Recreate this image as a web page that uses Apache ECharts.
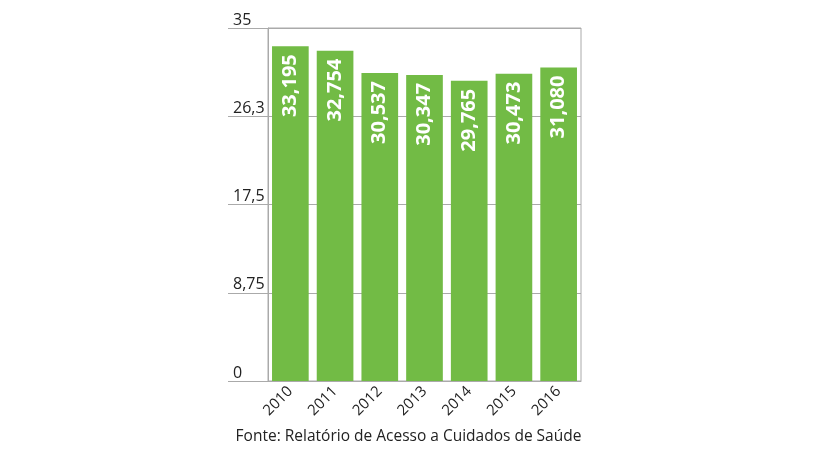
<!DOCTYPE html>
<html>
<head>
<meta charset="utf-8">
<script src="https://cdn.jsdelivr.net/npm/echarts@6/dist/echarts.min.js"></script>
<style>
  html, body { margin: 0; padding: 0; background: #fff; }
  #chart { width: 817px; height: 460px; }
</style>
</head>
<body>
<div id="chart"></div>
<script>
var years = ['2010', '2011', '2012', '2013', '2014', '2015', '2016'];
var values = [33.195, 32.754, 30.537, 30.347, 29.765, 30.473, 31.080];
var valueLabels = ['33,195', '32,754', '30,537', '30,347', '29,765', '30,473', '31,080'];
var yTickLabels = { 0: '0', 8.75: '8,75', 17.5: '17,5', 26.25: '26,3', 35: '35' };

var chart = echarts.init(document.getElementById('chart'));
var font = '"Open Sans", "Noto Sans", sans-serif';

var option = {
    animation: false,
    title: {
        text: 'Fonte: Relatório de Acesso a Cuidados de Saúde',
        left: 'center',
        bottom: 10,
        textStyle: { fontFamily: font, fontSize: 15.5, fontWeight: 'normal', color: '#222' }
    },
    grid: [
        // bars
        { left: 268, top: 28, width: 313, height: 353, show: true, borderColor: '#aaa', borderWidth: 1, backgroundColor: 'transparent' },
        // gridlines + labels reaching left of the axis
        { left: 228, top: 28, width: 353, height: 353 }
    ],
    xAxis: [
        {
            gridIndex: 0,
            type: 'category',
            data: years,
            axisLine: { lineStyle: { color: '#aaa' } },
            axisTick: { show: false },
            axisLabel: {
                rotate: 45,
                margin: 8,
                fontFamily: font,
                fontSize: 15,
                color: '#222'
            }
        },
        { gridIndex: 1, type: 'value', show: false }
    ],
    yAxis: [
        {
            gridIndex: 0,
            type: 'value',
            min: 0, max: 35, interval: 8.75,
            axisLine: { show: true, lineStyle: { color: '#aaa' } },
            axisTick: { show: false },
            axisLabel: { show: false },
            splitLine: { show: false }
        },
        {
            gridIndex: 1,
            type: 'value',
            min: 0, max: 35, interval: 8.75,
            axisLine: { show: false },
            axisTick: { show: false },
            splitLine: { show: true, lineStyle: { color: '#aaa', width: 1 } },
            axisLabel: {
                inside: true,
                align: 'left',
                verticalAlign: 'bottom',
                margin: 5,
                fontFamily: font,
                fontSize: 16,
                color: '#222',
                formatter: function (v) { return yTickLabels[v]; }
            }
        }
    ],
    series: [{
        type: 'bar',
        xAxisIndex: 0,
        yAxisIndex: 0,
        z: 10,
        data: values,
        barCategoryGap: '18%',
        itemStyle: { color: '#72bb45' },
        label: {
            show: true,
            position: 'insideTop',
            rotate: 90,
            align: 'right',
            verticalAlign: 'middle',
            distance: 8,
            color: '#fff',
            fontFamily: font,
            fontWeight: 'bold',
            fontSize: 20,
            formatter: function (p) { return valueLabels[p.dataIndex]; }
        }
    }]
};

chart.setOption(option);
</script>
</body>
</html>
